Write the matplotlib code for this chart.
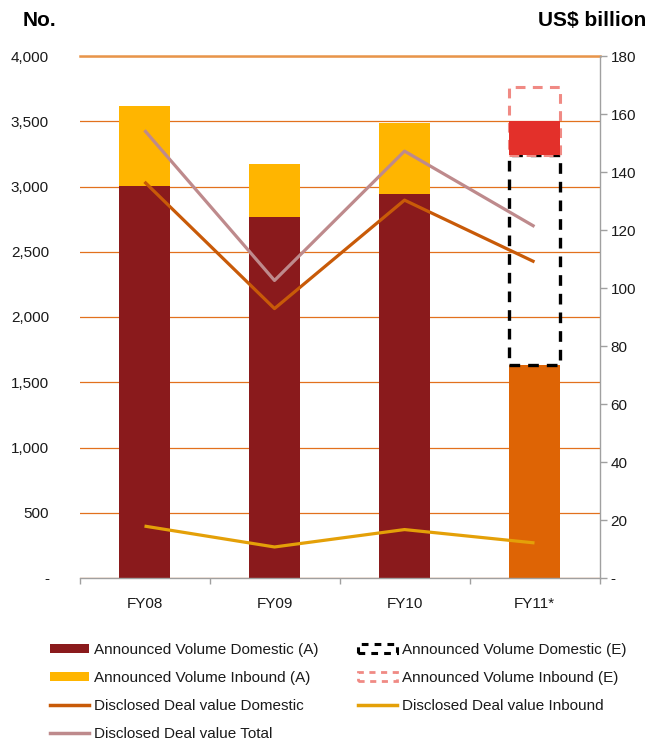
import matplotlib
matplotlib.use("Agg")
import matplotlib.pyplot as plt
from matplotlib.patches import Patch
from matplotlib.lines import Line2D
from matplotlib.ticker import FixedLocator, FuncFormatter

plt.rcParams['font.family'] = ['Liberation Sans', 'DejaVu Sans']

# ---- data ----
categories = ["FY08", "FY09", "FY10", "FY11*"]
announced_domestic = [3005, 2768, 2946]          # FY08-FY10 actual
announced_inbound = [615, 408, 537]              # FY08-FY10 actual
fy11_domestic_actual = 1630
fy11_domestic_estimate = 3240                    # full-year estimate (top of dashed box)
fy11_inbound_actual = 260
fy11_inbound_estimate = 525
deal_value_domestic = [136.6, 92.9, 130.3, 109.0]
deal_value_inbound = [17.9, 10.7, 16.7, 12.1]
deal_value_total = [154.4, 102.6, 147.2, 121.2]
left_ticks = [0, 500, 1000, 1500, 2000, 2500, 3000, 3500, 4000]
right_ticks = [0, 20, 40, 60, 80, 100, 120, 140, 160, 180]

# ---- colours ----
c_dom = "#8A1A1C"
c_inb = "#FFB500"
c_fy11_dom = "#DE6405"
c_fy11_inb = "#E3302A"
c_inb_est = "#F08A84"
c_line_dom = "#C85A08"
c_line_inb = "#E4A008"
c_line_tot = "#BE8A8C"
c_grid = "#E2711D"
c_axis = "#A0A0A0"
c_text = "#1A1A1A"

fig = plt.figure(figsize=(6.52, 7.40), dpi=100)
W, H = 652, 740
ax = fig.add_axes([79.5 / W, 162 / H, 520 / W, 522 / H])
ax2 = ax.twinx()

x = list(range(len(categories)))
bw = 0.395

# actual bars FY08-FY10
ax.bar(x[:3], announced_domestic, width=bw, color=c_dom, zorder=2)
ax.bar(x[:3], announced_inbound, width=bw, bottom=announced_domestic, color=c_inb, zorder=2)

# FY11 bar: actual so far + dashed estimate boxes
ax.bar(x[3], fy11_domestic_actual, width=bw, color=c_fy11_dom, zorder=2)
ax.bar(x[3], fy11_domestic_estimate - fy11_domestic_actual, width=bw,
       bottom=fy11_domestic_actual, facecolor="none", edgecolor="black",
       linewidth=2.4, linestyle=(0, (3.2, 2.4)), zorder=3)
ax.bar(x[3], fy11_inbound_estimate, width=bw, bottom=fy11_domestic_estimate,
       facecolor="none", edgecolor=c_inb_est, linewidth=2.2,
       linestyle=(0, (3.2, 2.4)), zorder=3)
ax.bar(x[3], fy11_inbound_actual, width=bw, bottom=fy11_domestic_estimate,
       color=c_fy11_inb, zorder=4)

# deal value lines on the right axis
ax2.plot(x, deal_value_domestic, color=c_line_dom, lw=2.3, solid_capstyle="butt")
ax2.plot(x, deal_value_inbound, color=c_line_inb, lw=2.3, solid_capstyle="butt")
ax2.plot(x, deal_value_total, color=c_line_tot, lw=2.3, solid_capstyle="butt")

# ---- axes styling ----
ax.set_xlim(-0.5, 3.5)
ax.set_ylim(0, 4000)
ax2.set_ylim(0, 180)

ax.set_axisbelow(True)
ax.yaxis.set_major_locator(FixedLocator(left_ticks))
ax.yaxis.set_major_formatter(FuncFormatter(lambda v, p: "-" if v == 0 else f"{int(v):,}"))
ax.grid(axis="y", color=c_grid, lw=0.9)
ax.grid(axis="x", visible=False)
ax.tick_params(axis="y", length=0, pad=22, labelsize=11, labelcolor=c_text)

ax.set_xticks(x)
ax.set_xticklabels(categories)
ax.set_xticks([-0.5, 0.5, 1.5, 2.5, 3.5], minor=True)
ax.tick_params(axis="x", which="major", length=0, pad=14, labelsize=11, labelcolor=c_text)
ax.tick_params(axis="x", which="minor", length=4, color=c_axis, width=1, direction="out")

ax2.yaxis.set_major_locator(FixedLocator(right_ticks))
ax2.yaxis.set_major_formatter(FuncFormatter(lambda v, p: "-" if v == 0 else f"{int(v)}"))
ax2.tick_params(axis="y", length=5, color=c_axis, width=1, pad=3,
                labelsize=11, labelcolor=c_text)

for a in (ax, ax2):
    for s in ("left", "right", "top", "bottom"):
        a.spines[s].set_visible(False)
ax.spines["bottom"].set_visible(True)
ax.spines["bottom"].set_color(c_axis)
ax.spines["bottom"].set_linewidth(1)
ax2.spines["right"].set_visible(True)
ax2.spines["right"].set_color(c_axis)
ax2.spines["right"].set_linewidth(1)
ax.spines["top"].set_visible(True)
ax.spines["top"].set_color("#E8954A")
ax.spines["top"].set_linewidth(1.8)

# ---- axis titles ----
fig.text(23 / W, 1 - 21 / H, "No.", ha="left", va="center",
         fontsize=15, fontweight="bold", color="black")
fig.text(646 / W, 1 - 21 / H, "US$ billion", ha="right", va="center",
         fontsize=15, fontweight="bold", color="black")

# ---- legend ----
dash = (0, (2.2, 2.0))
h_dom_a = Patch(facecolor=c_dom, edgecolor="none")
h_inb_a = Patch(facecolor=c_inb, edgecolor="none")
h_dom_e = Patch(facecolor="none", edgecolor="black", linewidth=2.2, linestyle=dash)
h_inb_e = Patch(facecolor="none", edgecolor=c_inb_est, linewidth=2.0, linestyle=dash)
h_l_dom = Line2D([], [], color=c_line_dom, lw=2.5)
h_l_inb = Line2D([], [], color=c_line_inb, lw=2.5)
h_l_tot = Line2D([], [], color=c_line_tot, lw=2.5)

leg_kw = dict(loc="upper left", frameon=False, fontsize=11, borderpad=0,
              handlelength=2.55, handleheight=0.55, handletextpad=0.3,
              labelspacing=0.92, borderaxespad=0)
leg1 = fig.legend([h_dom_a, h_inb_a, h_l_dom, h_l_tot],
                  ["Announced Volume Domestic (A)", "Announced Volume Inbound (A)",
                   "Disclosed Deal value Domestic", "Disclosed Deal value Total"],
                  bbox_to_anchor=(50 / W, 1 - 643 / H), **leg_kw)
for t in leg1.get_texts():
    t.set_color(c_text)
leg2 = fig.legend([h_dom_e, h_inb_e, h_l_inb],
                  ["Announced Volume Domestic (E)", "Announced Volume Inbound (E)",
                   "Disclosed Deal value Inbound"],
                  bbox_to_anchor=(358 / W, 1 - 643 / H), **leg_kw)
for t in leg2.get_texts():
    t.set_color(c_text)

fig.savefig("out.png", dpi=100)
